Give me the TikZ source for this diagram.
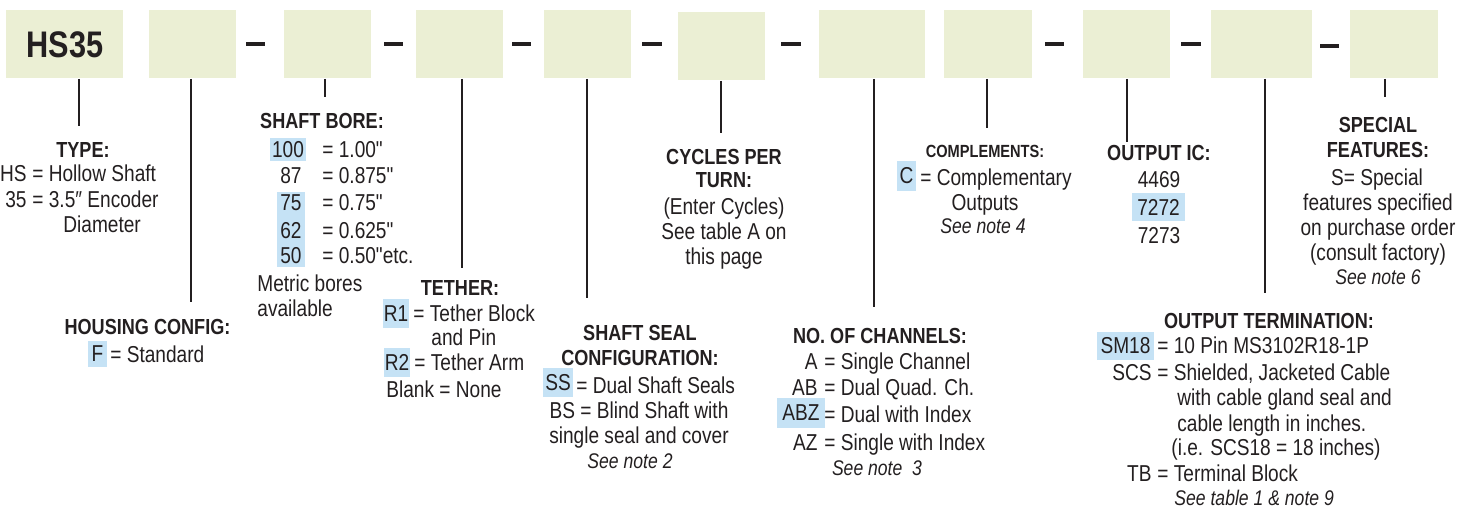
\documentclass[tikz,border=0pt]{standalone}
\usepackage{fontspec}
\setmainfont{Liberation Sans}[FakeStretch=0.83]
\newfontfamily\plainsans{Liberation Sans}[FakeStretch=0.83]
\definecolor{fieldbg}{RGB}{235,239,212}
\definecolor{hlblue}{RGB}{197,226,245}
\definecolor{ink}{RGB}{35,31,32}
\newcommand\bodyfont{\fontsize{11.5}{12.5}\selectfont}
\newcommand\headfont{\fontsize{10.9}{12.5}\selectfont\bfseries}
\newcommand\smallhead{\fontsize{8.8}{10}\selectfont\bfseries}
\newcommand\notefont{\fontsize{10.6}{12}\selectfont\itshape}
\newcommand\inch{{\plainsans"}}
\begin{document}
\begin{tikzpicture}[x=0.5pt, y=-0.5pt,
    field/.style={fill=fieldbg, inner sep=0pt, minimum height=34pt},
    leader/.style={draw=ink, line width=1.3pt},
    hyphen/.style={draw=ink, line width=1.6pt},
    head/.style={font=\headfont, text=ink, inner sep=0pt, anchor=base},
    txt/.style={font=\bodyfont, text=ink, inner sep=0pt},
    note/.style={font=\notefont, text=ink, inner sep=0pt, anchor=base},
    hlbox/.style 2 args={txt, fill=hlblue, minimum width=#1*0.5pt, minimum height=#2*0.5pt}
]
\useasboundingbox (0,0) rectangle (1473,508);

% code fields
\foreach \l/\r/\t [count=\i] in {6/123/10, 149/236/10, 284/371/10, 416/503/10,
    544/631/10, 678/765/12, 819/925/10, 944/1032/10, 1083/1170/10, 1211/1312/10, 1350/1438/10}
  \node[field, minimum width=(\r-\l)*0.5pt, anchor=north west] (f\i) at (\l,\t) {};
\node[font=\fontsize{18.5}{20}\selectfont\bfseries, text=ink] (hs) at (f1) {HS35};

% dashes between fields
\foreach \a/\b/\y in {246/265/44, 384/403/44, 512/531/44, 642/662/44,
    781/801/44, 1045/1064/44, 1181/1201/44, 1320/1339/46}
  \draw[hyphen] (\a,\y) -- (\b,\y);

% leaders
\foreach \x/\y [count=\i] in {79/126, 191/302, 325/97, 462/268, 587/298, 721/133,
    874/307, 987/128, 1127/142, 1265/293, 1385/97} {
  \coordinate (e\i) at (\x,\y);
  \draw[leader] (f\i.south -| e\i) -- (e\i);
}

% type
\node[head] (typeH) at (83,157) {TYPE:};
\node[txt, anchor=base east] (typeA) at (27,182) {HS};
\node[txt, anchor=base west] (typeAd) at (32,182) {= Hollow Shaft};
\node[txt, anchor=base east] (typeB) at (27,207) {35};
\node[txt, anchor=base west] (typeBd) at (32,207) {= 3.5″ Encoder};
\node[txt, anchor=base west] (typeBe) at (63,233) {Diameter};

% housing config
\node[head] (housH) at (147.5,334) {HOUSING CONFIG:};
\node[hlbox={19}{26}] (housF) at (97.5,354) {F};
\node[txt, anchor=base west] (housFd) at (110,362) {= Standard};

% shaft bore
\node[head] (boreH) at (322,129) {SHAFT BORE:};
\node[hlbox={28}{75}] (boreHl) at (291,229.5) {};
\node[hlbox={36}{23}] (bore100) at (288,149.5) {100};
\node[txt, anchor=base west] at (322,157) {= 1.00\inch};
\foreach \c/\v/\y in {87/0.875\inch/184, 75/0.75\inch/211, 62/0.625\inch/238, 50/0.50\inch etc./263} {
  \node[txt, anchor=base east] (bore\c) at (302,\y) {\c};
  \node[txt, anchor=base west] (bore\c d) at (322,\y) {= \v};
}
\node[txt, anchor=base west] (boreM) at (257,291) {Metric bores};
\node[txt, anchor=base west] (boreMa) at (257,316) {available};

% tether
\node[head] (tethH) at (460,295) {TETHER:};
\node[hlbox={26}{29}] (tethA) at (396,313.5) {R1};
\node[txt, anchor=base west] (tethAd) at (413,321) {= Tether Block};
\node[txt, anchor=base west] (tethAe) at (431,345) {and Pin};
\node[hlbox={26}{29}] (tethB) at (397,362.5) {R2};
\node[txt, anchor=base west] (tethBd) at (414,370) {= Tether Arm};
\node[txt, anchor=base west] (tethC) at (386,397) {Blank = None};

% cycles per turn
\node[head] (cycH) at (724,164) {CYCLES PER};
\node[head] (cycHb) at (724,188) {TURN:};
\node[txt, anchor=base] (cycA) at (724,214) {(Enter Cycles)};
\node[txt, anchor=base] (cycB) at (724,239) {See table A on};
\node[txt, anchor=base] (cycC) at (724,264) {this page};

% shaft seal
\node[head] (sealH) at (640,340) {SHAFT SEAL};
\node[head] (sealHb) at (640,365) {CONFIGURATION:};
\node[hlbox={30}{29}] (sealA) at (558,382.5) {SS};
\node[txt, anchor=base west] (sealAd) at (576,393) {= Dual Shaft Seals};
\node[txt, anchor=base] (sealB) at (639,418) {BS = Blind Shaft with};
\node[txt, anchor=base] (sealBe) at (639,443) {single seal and cover};
\node[note] (sealN) at (630,468) {See note 2};

% complements
\node[head, font=\smallhead] (compH) at (985,157) {COMPLEMENTS:};
\node[hlbox={19}{30}] (compA) at (906.5,176) {C};
\node[txt, anchor=base west] (compAd) at (920,185) {= Complementary};
\node[txt, anchor=base] (compAe) at (985,210) {Outputs};
\node[note] (compN) at (983,234) {See note 4};

% channels
\node[head] (chanH) at (880,343) {NO. OF CHANNELS:};
\node[hlbox={48}{30}] (chanABZ) at (801,413) {ABZ};
\foreach \c/\v/\y in {A/Single Channel/369, AB/Dual Quad. Ch./395, AZ/Single with Index/450}
  \node[txt, anchor=base east] (chan\c) at (818,\y) {\c};
\foreach \c/\v/\y in {A/Single Channel/369, AB/Dual Quad. Ch./395, ABZ/Dual with Index/422, AZ/Single with Index/450}
  \node[txt, anchor=base west] (chan\c d) at (824,\y) {= \v};
\node[note] (chanN) at (877,475) {See note\ \ 3};

% output ic
\node[head] (icH) at (1159,161) {OUTPUT IC:};
\node[txt, anchor=base] (icA) at (1159,187) {4469};
\node[hlbox={53}{28}] (icB) at (1158.5,207) {7272};
\node[txt, anchor=base] (icC) at (1159,243) {7273};

% special features
\node[head] (specH) at (1378,133) {SPECIAL};
\node[head] (specHb) at (1378,158) {FEATURES:};
\node[txt, anchor=base] (specA) at (1377,185) {S= Special};
\node[txt, anchor=base] (specB) at (1378,210) {features specified};
\node[txt, anchor=base] (specC) at (1378,235) {on purchase order};
\node[txt, anchor=base] (specD) at (1378,260) {(consult factory)};
\node[note] (specN) at (1378,284) {See note 6};

% output termination
\node[head] (termH) at (1269,328) {OUTPUT TERMINATION:};
\node[hlbox={57}{28}] (termA) at (1125.5,346) {SM18};
\node[txt, anchor=base west] (termAd) at (1157,353) {= 10 Pin MS3102R18-1P};
\node[txt, anchor=base east] (termB) at (1152,380) {SCS};
\node[txt, anchor=base west] (termBd) at (1157,380) {= Shielded, Jacketed Cable};
\node[txt, anchor=base west] (termBe) at (1177,405) {with cable gland seal and};
\node[txt, anchor=base west] (termBf) at (1177,431) {cable length in inches.};
\node[txt, anchor=base west] (termBg) at (1171,455) {(i.e. SCS18 = 18 inches)};
\node[txt, anchor=base east] (termC) at (1152,481) {TB};
\node[txt, anchor=base west] (termCd) at (1157,481) {= Terminal Block};
\node[note, anchor=base west] (termN) at (1174,505) {See table 1 \& note 9};
\end{tikzpicture}
\end{document}
